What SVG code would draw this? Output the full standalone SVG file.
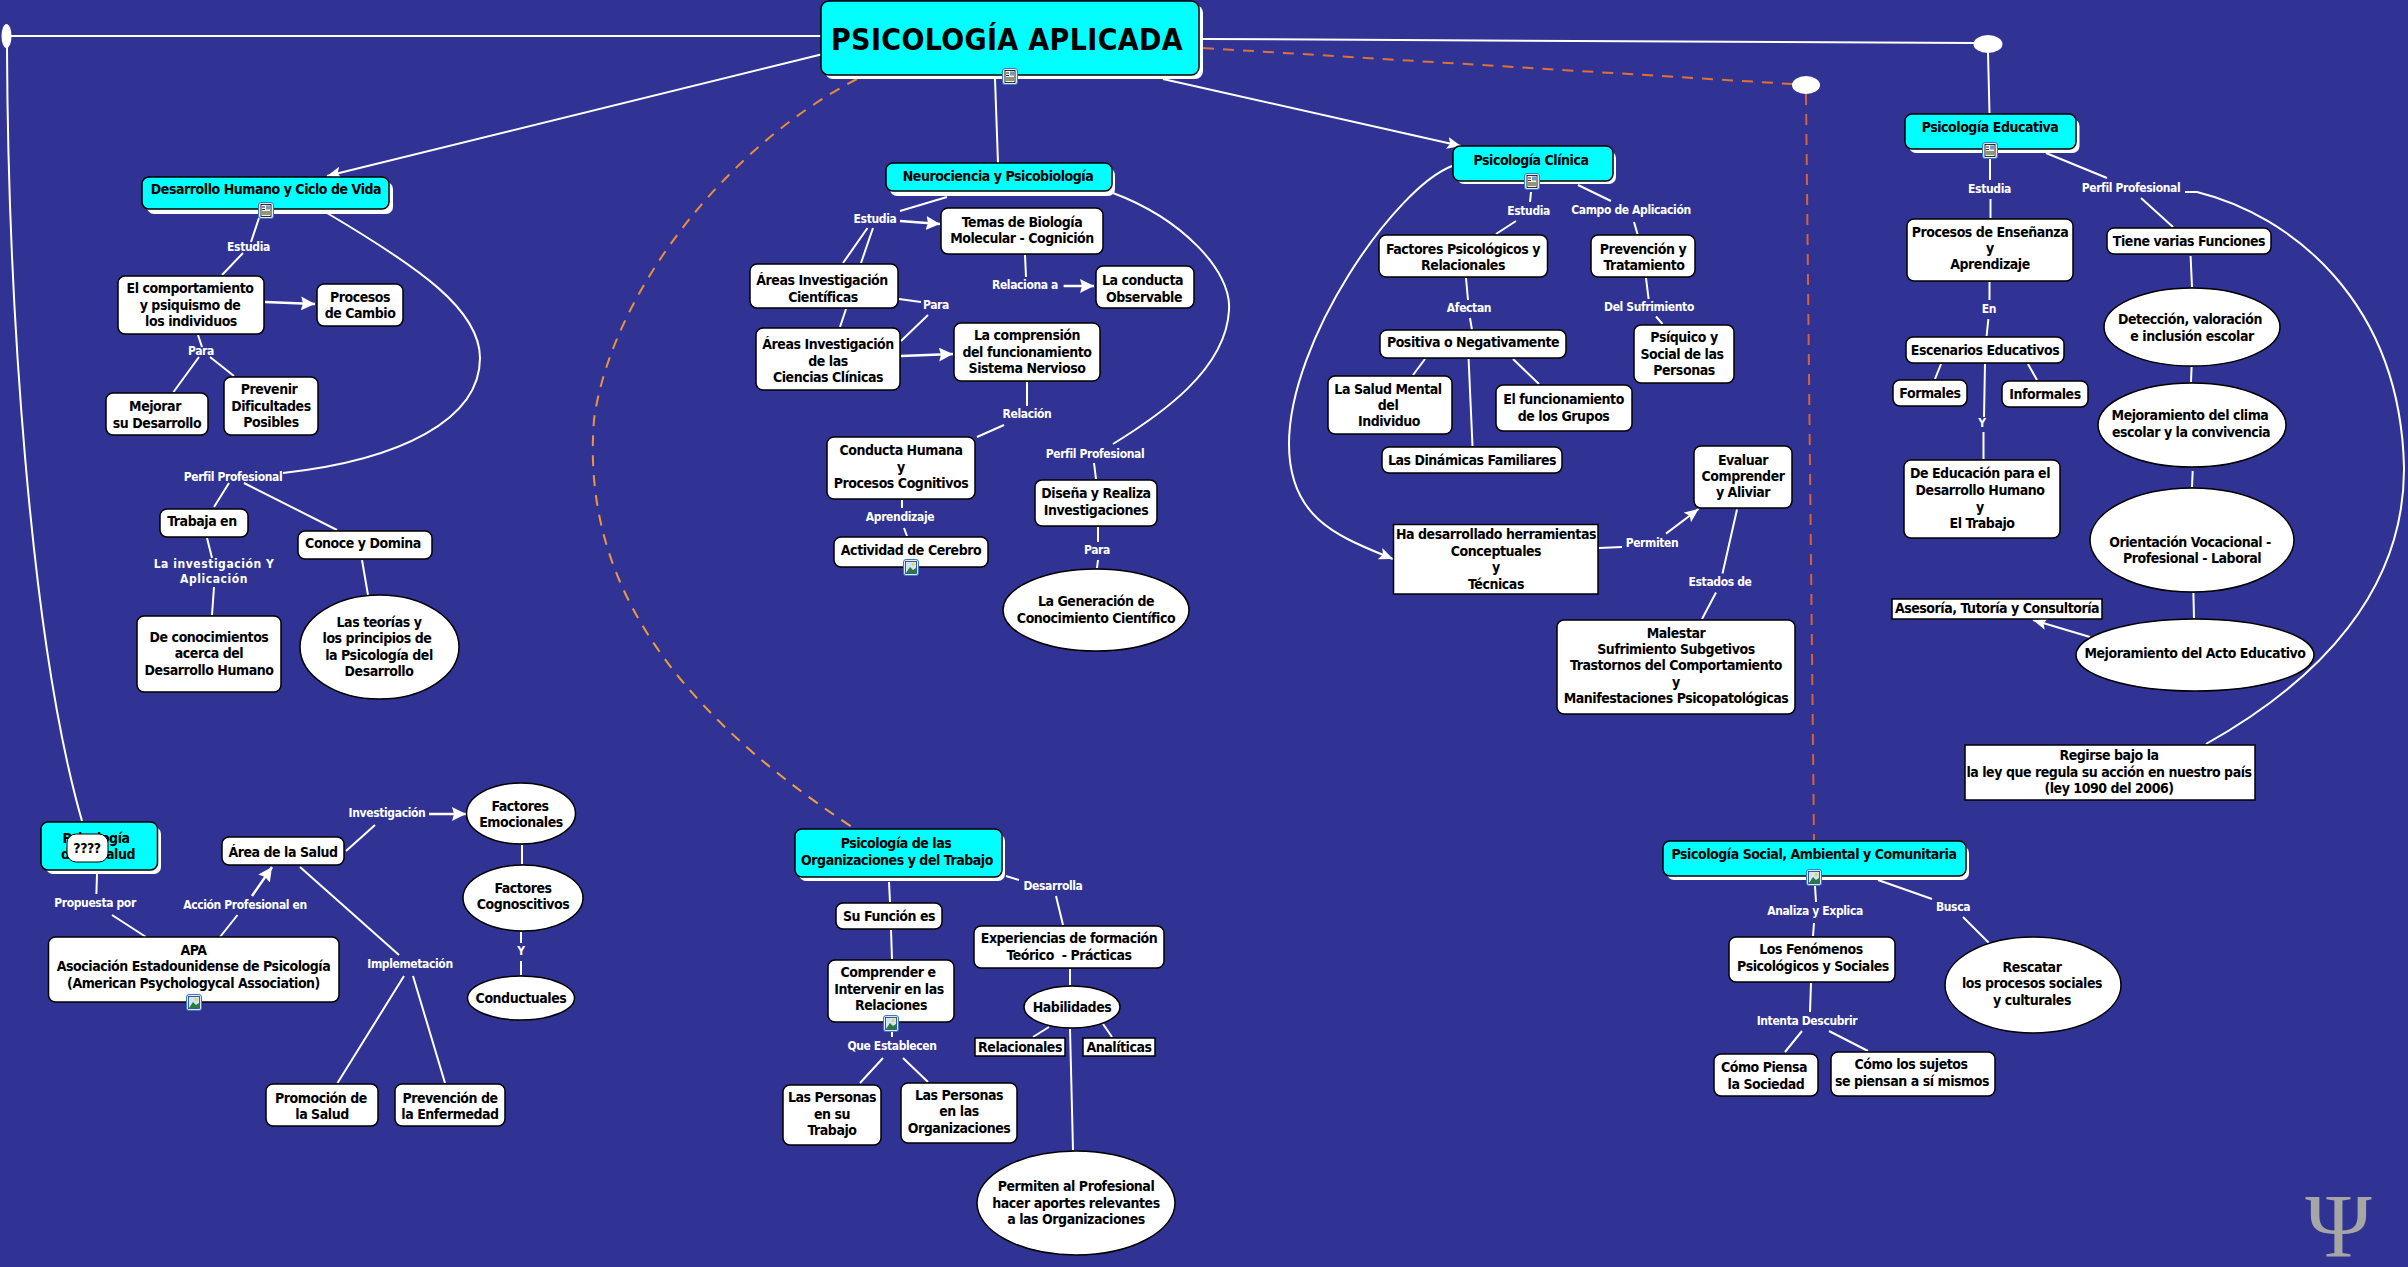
<svg xmlns="http://www.w3.org/2000/svg" xmlns:xlink="http://www.w3.org/1999/xlink" width="2408" height="1267" viewBox="0 0 2408 1267">
<style>
text{font-family:"DejaVu Sans Condensed","DejaVu Sans","Noto Sans",sans-serif;font-weight:700;text-anchor:middle}
.n{font-size:14px;fill:#000;letter-spacing:-.45px}
.e{font-size:12px;fill:#fff;letter-spacing:-.37px}
.w{letter-spacing:.55px}
.b{fill:#fff;stroke:#000;stroke-width:1.5}
.c{fill:#0ff;stroke:#000;stroke-width:1.5}
.s{fill:#fff}
.l{fill:none;stroke:#fff;stroke-width:2}
.a{fill:none;stroke:#fff;stroke-width:2.5;marker-end:url(#arr)}
.t{fill:none;stroke:#fff;stroke-width:2;marker-end:url(#arr2)}
.d{fill:none;stroke-width:2;stroke-dasharray:11 9}
.i1{fill:#f6f6d8;stroke:#000;stroke-width:.8}
</style>
<defs>
<marker id="arr" markerUnits="userSpaceOnUse" markerWidth="16" markerHeight="16" refX="14" refY="7" orient="auto"><path d="M0 0L14 7L0 14L2 7Z" fill="#fff"/></marker>
<marker id="arr2" markerUnits="userSpaceOnUse" markerWidth="16" markerHeight="16" refX="14" refY="6" orient="auto"><path d="M0 0L14 6L0 12L3 6Z" fill="#fff"/></marker>
<linearGradient id="g1" gradientUnits="userSpaceOnUse" x1="857" y1="79" x2="852" y2="827"><stop offset="0" stop-color="#E8893A"/><stop offset="1" stop-color="#F0A040"/></linearGradient>
<g id="doc"><rect x=".5" y=".5" width="15" height="16" rx="2.5" fill="#dfe9fb" stroke="#3a78d0"/><rect x="3" y="2.500" width="10" height="12" class="i1"/><path d="M4 5h3M4 7.500h3M4 10h8M4 12h8" stroke="#000" stroke-width=".8" fill="none"/><rect x="8" y="3.500" width="4" height="4" fill="#6a9ad0"/></g>
<g id="pic"><rect x=".5" y=".5" width="15" height="16" rx="2.5" fill="#dfe9fb" stroke="#3a78d0"/><rect x="2.500" y="2.500" width="11" height="12" fill="#cfe6f8" stroke="#1a3a70" stroke-width=".8"/><path d="M3 14L7 8L10 11L13 9V14Z" fill="#2a7a3a"/><circle cx="10" cy="5.500" r="1.500" fill="#f0d040"/></g>
</defs>
<rect id="background" width="2408" height="1267" fill="#303393"/>

<g id="connectors">
<path class="l" d="M11 36H821M7 47C8 300 30 640 82 821"/>
<path class="t" d="M821 54.500L327 176"/>
<path class="l" d="M995 79L998 163"/>
<path class="t" d="M1163 79L1461 146"/>
<path class="l" d="M1203 39L1974 43M1988 53L1989.500 113"/>
<path class="d" stroke="url(#g1)" d="M857 79C720 150 610 300 594 420C582 570 660 700 852 827"/>
<path class="d" stroke="#E07038" d="M1203 48L1792 84"/>
<path class="d" stroke="#D8603A" d="M1806 94L1814 840"/>

<path class="l" d="M259 218L251 242M243 253L222 275"/>
<path class="a" d="M265 302L315 304"/>
<path class="l" d="M198 335L202 347M199 357L173.500 392M210 357L234 376"/>
<path class="l" d="M327 213C420 268 480 310 480 358C480 420 400 460 283 473"/>
<path class="l" d="M229 483L214 507M244 483L337 530M207 538L212 558M214 587L212 615M362 560L368 595"/>

<path class="l" d="M947 197L900 211M867.500 228L843 263M873 228L861 263M1025 255L1026 277M899 299L921 302M928 315L901 341M846 309L840 327"/>
<path class="a" d="M900 221L940 224"/>
<path class="a" d="M1063.600 286L1094 286"/>
<path class="a" d="M901 356L953 354"/>
<path class="l" d="M1113 193C1180 218 1232 270 1229 310C1226 370 1160 415 1113 444"/>
<path class="l" d="M1027 382V406M1004 425L977 437M1094 463L1096 479M902 500V508M904 528L907 536M1098 527V542M1098 560L1097 568"/>

<path class="l" d="M889 882L890 902M891 930L892 959M892 1032V1037M883 1058L860 1083M903 1058L928 1082M1006 876L1019 880M1056 896L1063 925M1070 969V985M1049 1027L1033 1037M1103 1024L1112 1037M1070 1029L1073 1150"/>

<path class="l" d="M1531 192L1530 202M1516 221L1496 234M1578 185L1611 201M1634 222L1637.500 234M1466 278L1468 300M1470 318L1472 330M1646 278L1648.600 299M1656 316.500L1662.500 324M1425 359L1413 375M1513 359L1539 384M1468.600 359L1472.500 446M1599 548L1622 547M1737 509.500L1722.500 573.500M1716 592.500L1702 619"/>
<path class="t" d="M1666 533.600L1698.600 509"/>
<path class="t" d="M1452 166C1395 188 1289 340 1289 444C1289 520 1340 537 1393 559"/>

<path class="l" d="M1990 159V180M1990.500 199V218M2046 153L2107 178M1989.500 282V300M1988.400 319L1986.600 336M1941 364L1935 379M2028 364L2037 380M1985 364L1984 417M1983.500 432V459M2141 198L2173 227M2190.600 256L2192 287M2191.600 367L2191 382M2192.700 471L2192 487M2193.400 593L2194 618"/>
<path class="t" d="M2090 637L2033 620"/>
<path class="l" d="M2185 192L2197 192C2290 215 2400 300 2404 467C2405 590 2320 680 2206 744"/>

<path class="l" d="M1815 886L1816 902M1814 923L1813 936M1878 880L1932 899M1963 917L1989 943M1811 983L1810 1012M1802 1031L1785 1052M1829 1031L1868 1051"/>

<path class="l" d="M97 874L96.400 894M112 915L146 937M220 937L237.500 915M346 851L375 825M300 867L399 955M404 976L337.500 1083M413 976L445 1083M522 845V864M521 932V943M521 961V975"/>
<path class="a" d="M252 896L272 867"/>
<path class="a" d="M429 814H466"/>
</g>

<g id="edge-labels">
<text class="e" x="248.500" y="251">Estudia</text>
<text class="e" x="201" y="355">Para</text>
<text class="e" x="233" y="481">Perfil Profesional</text>
<text class="e w"><tspan x="214" y="568">La investigación Y</tspan><tspan x="214" y="583">Aplicación</tspan></text>
<text class="e" x="875" y="223">Estudia</text>
<text class="e" x="1025" y="289">Relaciona a</text>
<text class="e" x="936" y="309">Para</text>
<text class="e" x="1027" y="418">Relación</text>
<text class="e" x="1095" y="458">Perfil Profesional</text>
<text class="e" x="900" y="521">Aprendizaje</text>
<text class="e" x="1097" y="554">Para</text>
<text class="e" x="95" y="907">Propuesta por</text>
<text class="e" x="245" y="909">Acción Profesional en</text>
<text class="e" x="387" y="817">Investigación</text>
<text class="e" x="410" y="968">Implemetación</text>
<text class="e" x="521" y="955">Y</text>
<text class="e" x="1053" y="890">Desarrolla</text>
<text class="e" x="892" y="1050">Que Establecen</text>
<text class="e" x="1528.600" y="215">Estudia</text>
<text class="e" x="1631" y="214">Campo de Aplicación</text>
<text class="e" x="1469" y="312">Afectan</text>
<text class="e" x="1649" y="311">Del Sufrimiento</text>
<text class="e" x="1652" y="547">Permiten</text>
<text class="e" x="1720" y="586">Estados de</text>
<text class="e" x="1989.500" y="193">Estudia</text>
<text class="e" x="2131" y="192">Perfil Profesional</text>
<text class="e" x="1989" y="313">En</text>
<text class="e" x="1982" y="427">Y</text>
<text class="e" x="1815" y="915">Analiza y Explica</text>
<text class="e" x="1953" y="911">Busca</text>
<text class="e" x="1807" y="1025">Intenta Descubrir</text>
</g>

<g id="junction-left"><ellipse class="s" cx="6.500" cy="36" rx="5" ry="12"/></g>
<g id="junction-edu"><ellipse class="s" cx="1988" cy="44" rx="14.500" ry="9"/></g>
<g id="junction-social"><ellipse class="s" cx="1806" cy="85" rx="14" ry="9"/></g>

<g id="main"><rect class="s" x="825" y="5" width="378" height="74" rx="8"/><rect class="c" x="821" y="1" width="378" height="74" rx="8"/><text x="1007" y="50" style="font-size:30px;letter-spacing:.35px">PSICOLOGÍA APLICADA</text><use xlink:href="#doc" x="1002" y="68"/></g>

<g id="desarrollo"><rect class="s" x="147" y="182" width="246" height="32" rx="7"/><rect class="c" x="142" y="177" width="247" height="32" rx="7"/><text class="n" x="266" y="194">Desarrollo Humano y Ciclo de Vida</text><use xlink:href="#doc" x="258" y="202"/></g>
<g id="comportamiento"><rect class="b" x="118" y="276" width="146" height="58" rx="7"/><text class="n"><tspan x="190" y="293">El comportamiento</tspan><tspan x="190" y="310">y psiquismo de</tspan><tspan x="191" y="326">los individuos</tspan></text></g>
<g id="procesos-cambio"><rect class="b" x="317" y="284" width="86" height="42" rx="7"/><text class="n"><tspan x="360" y="302">Procesos</tspan><tspan x="360" y="318">de Cambio</tspan></text></g>
<g id="mejorar"><rect class="b" x="106" y="393" width="102" height="42" rx="7"/><text class="n"><tspan x="155" y="411">Mejorar</tspan><tspan x="157" y="428">su Desarrollo</tspan></text></g>
<g id="prevenir"><rect class="b" x="224" y="377" width="94" height="58" rx="7"/><text class="n"><tspan x="269" y="394">Prevenir</tspan><tspan x="271" y="410.500">Dificultades</tspan><tspan x="271" y="427">Posibles</tspan></text></g>
<g id="trabaja"><rect class="b" x="160" y="509" width="88" height="28" rx="7"/><text class="n" x="202" y="526">Trabaja en</text></g>
<g id="conoce"><rect class="b" x="298" y="531" width="134" height="28" rx="7"/><text class="n" x="363" y="548">Conoce y Domina</text></g>
<g id="conocimientos"><rect class="b" x="137" y="616" width="144" height="76" rx="7"/><text class="n"><tspan x="209" y="642">De conocimientos</tspan><tspan x="209" y="658">acerca del</tspan><tspan x="209" y="675">Desarrollo Humano</tspan></text></g>
<g id="teorias"><ellipse class="b" cx="379.500" cy="647" rx="79.500" ry="52"/><text class="n"><tspan x="379" y="627">Las teorías y</tspan><tspan x="377" y="643">los principios de</tspan><tspan x="379" y="660">la Psicología del</tspan><tspan x="379" y="676">Desarrollo</tspan></text></g>

<g id="neurociencia"><rect class="s" x="890" y="168" width="225" height="28" rx="7"/><rect class="c" x="886" y="163" width="226" height="28" rx="7"/><text class="n" x="998" y="181">Neurociencia y Psicobiología</text></g>
<g id="temas"><rect class="b" x="941" y="208" width="162" height="46" rx="7"/><text class="n"><tspan x="1022" y="227">Temas de Biología</tspan><tspan x="1022" y="243">Molecular - Cognición</tspan></text></g>
<g id="conducta-obs"><rect class="b" x="1096" y="266" width="98" height="42" rx="7"/><text class="n"><tspan x="1142.500" y="285">La conducta</tspan><tspan x="1144" y="301.500">Observable</tspan></text></g>
<g id="areas-cient"><rect class="b" x="750" y="264" width="148" height="44" rx="7"/><text class="n"><tspan x="822" y="285">Áreas Investigación</tspan><tspan x="823" y="302">Científicas</tspan></text></g>
<g id="areas-clin"><rect class="b" x="756" y="328" width="144" height="62" rx="7"/><text class="n"><tspan x="828" y="349">Áreas Investigación</tspan><tspan x="828" y="365.500">de las</tspan><tspan x="828" y="382">Ciencias Clínicas</tspan></text></g>
<g id="comprension"><rect class="b" x="954" y="323" width="146" height="58" rx="7"/><text class="n"><tspan x="1027" y="340">La comprensión</tspan><tspan x="1027" y="356.500">del funcionamiento</tspan><tspan x="1027" y="373">Sistema Nervioso</tspan></text></g>
<g id="conducta-humana"><rect class="b" x="827" y="437" width="148" height="62" rx="7"/><text class="n"><tspan x="901" y="455">Conducta Humana</tspan><tspan x="901" y="471.500">y</tspan><tspan x="901" y="488">Procesos Cognitivos</tspan></text></g>
<g id="actividad"><rect class="b" x="834" y="537" width="154" height="30" rx="7"/><text class="n" x="911" y="555">Actividad de Cerebro</text><use xlink:href="#pic" x="903" y="559"/></g>
<g id="disena"><rect class="b" x="1035" y="480" width="122" height="46" rx="7"/><text class="n"><tspan x="1096" y="498">Diseña y Realiza</tspan><tspan x="1096" y="515">Investigaciones</tspan></text></g>
<g id="generacion"><ellipse class="b" cx="1096" cy="610" rx="93" ry="41"/><text class="n"><tspan x="1096" y="606">La Generación de</tspan><tspan x="1096" y="622.500">Conocimiento Científico</tspan></text></g>

<g id="clinica"><rect class="s" x="1457" y="151" width="159" height="33" rx="7"/><rect class="c" x="1453" y="146" width="160" height="35" rx="7"/><text class="n" x="1531" y="165">Psicología Clínica</text><use xlink:href="#doc" x="1524" y="173"/></g>
<g id="factores-psic"><rect class="b" x="1379" y="235" width="168.500" height="42" rx="7"/><text class="n"><tspan x="1463" y="254">Factores Psicológicos y</tspan><tspan x="1463" y="270">Relacionales</tspan></text></g>
<g id="prevencion-trat"><rect class="b" x="1591" y="235" width="104" height="42" rx="7"/><text class="n"><tspan x="1643" y="254">Prevención y</tspan><tspan x="1644" y="270">Tratamiento</tspan></text></g>
<g id="positiva"><rect class="b" x="1380" y="330" width="186" height="28" rx="7"/><text class="n" x="1473" y="347">Positiva o Negativamente</text></g>
<g id="psiquico"><rect class="b" x="1634" y="325" width="100" height="58" rx="7"/><text class="n"><tspan x="1684" y="342">Psíquico y</tspan><tspan x="1682" y="359">Social de las</tspan><tspan x="1684" y="375">Personas</tspan></text></g>
<g id="salud-mental"><rect class="b" x="1328" y="376" width="124" height="58" rx="7"/><text class="n"><tspan x="1388" y="394">La Salud Mental</tspan><tspan x="1388" y="410">del</tspan><tspan x="1389" y="426">Individuo</tspan></text></g>
<g id="funcionamiento"><rect class="b" x="1496" y="385" width="136" height="46" rx="7"/><text class="n"><tspan x="1563.600" y="404">El funcionamiento</tspan><tspan x="1563.600" y="420.500">de los Grupos</tspan></text></g>
<g id="dinamicas"><rect class="b" x="1382" y="447" width="180" height="26" rx="7"/><text class="n" x="1472" y="465">Las Dinámicas Familiares</text></g>
<g id="evaluar"><rect class="b" x="1694" y="446" width="98" height="62" rx="7"/><text class="n"><tspan x="1743" y="465">Evaluar</tspan><tspan x="1743" y="481">Comprender</tspan><tspan x="1743" y="497">y Aliviar</tspan></text></g>
<g id="herramientas"><rect class="b" x="1393.500" y="524.500" width="204.500" height="69.500"/><text class="n"><tspan x="1496" y="539">Ha desarrollado herramientas</tspan><tspan x="1496" y="556">Conceptuales</tspan><tspan x="1496" y="572">y</tspan><tspan x="1496" y="588.600">Técnicas</tspan></text></g>
<g id="malestar"><rect class="b" x="1557" y="620" width="238" height="94" rx="7"/><text class="n"><tspan x="1676" y="637.600">Malestar</tspan><tspan x="1676" y="654">Sufrimiento Subgetivos</tspan><tspan x="1676" y="670">Trastornos del Comportamiento</tspan><tspan x="1676" y="687">y</tspan><tspan x="1676" y="703">Manifestaciones Psicopatológicas</tspan></text></g>

<g id="educativa"><rect class="s" x="1909" y="119" width="170.500" height="34" rx="7"/><rect class="c" x="1905" y="114" width="171" height="35" rx="7"/><text class="n" x="1990" y="132">Psicología Educativa</text><use xlink:href="#doc" x="1982" y="142"/></g>
<g id="procesos-ens"><rect class="b" x="1907" y="219" width="166" height="62" rx="7"/><text class="n"><tspan x="1990" y="237">Procesos de Enseñanza</tspan><tspan x="1990" y="253">y</tspan><tspan x="1990" y="269">Aprendizaje</tspan></text></g>
<g id="escenarios"><rect class="b" x="1906" y="337" width="158" height="26" rx="7"/><text class="n" x="1985" y="355">Escenarios Educativos</text></g>
<g id="formales"><rect class="b" x="1893" y="380" width="74" height="26" rx="7"/><text class="n" x="1930" y="398">Formales</text></g>
<g id="informales"><rect class="b" x="2002" y="381" width="86" height="26" rx="7"/><text class="n" x="2045" y="399">Informales</text></g>
<g id="educacion-des"><rect class="b" x="1904" y="460" width="156" height="78" rx="7"/><text class="n"><tspan x="1980" y="478">De Educación para el</tspan><tspan x="1980" y="495">Desarrollo Humano</tspan><tspan x="1980" y="512">y</tspan><tspan x="1982" y="528">El Trabajo</tspan></text></g>
<g id="funciones"><rect class="b" x="2107" y="228" width="164" height="26" rx="7"/><text class="n" x="2189" y="246">Tiene varias Funciones</text></g>
<g id="deteccion"><ellipse class="b" cx="2192" cy="327" rx="88" ry="39"/><text class="n"><tspan x="2190" y="324">Detección, valoración</tspan><tspan x="2192" y="341">e inclusión escolar</tspan></text></g>
<g id="clima"><ellipse class="b" cx="2192" cy="425" rx="94" ry="42"/><text class="n"><tspan x="2190" y="420">Mejoramiento del clima</tspan><tspan x="2191" y="437">escolar y la convivencia</tspan></text></g>
<g id="orientacion"><ellipse class="b" cx="2192" cy="540" rx="102" ry="52"/><text class="n"><tspan x="2190" y="547">Orientación Vocacional -</tspan><tspan x="2192" y="563">Profesional - Laboral</tspan></text></g>
<g id="asesoria"><rect class="b" x="1892" y="599" width="210" height="20"/><text class="n" x="1997" y="613">Asesoría, Tutoría y Consultoría</text></g>
<g id="acto"><ellipse class="b" cx="2195" cy="655" rx="119" ry="36"/><text class="n" x="2195" y="658">Mejoramiento del Acto Educativo</text></g>
<g id="regirse"><rect class="b" x="1965" y="745" width="290" height="55"/><text class="n"><tspan x="2109" y="760">Regirse bajo la</tspan><tspan x="2109" y="777">la ley que regula su acción en nuestro país</tspan><tspan x="2109" y="793">(ley 1090 del 2006)</tspan></text></g>

<g id="social"><rect class="s" x="1667" y="846" width="302" height="34" rx="7"/><rect class="c" x="1663" y="841" width="303" height="35" rx="7"/><text class="n" x="1814" y="859">Psicología Social, Ambiental y Comunitaria</text><use xlink:href="#pic" x="1806" y="869"/></g>
<g id="fenomenos"><rect class="b" x="1729" y="937" width="166" height="45" rx="7"/><text class="n"><tspan x="1811" y="954">Los Fenómenos</tspan><tspan x="1813" y="971">Psicológicos y Sociales</tspan></text></g>
<g id="rescatar"><ellipse class="b" cx="2033" cy="985" rx="88" ry="48"/><text class="n"><tspan x="2032" y="972">Rescatar</tspan><tspan x="2032" y="988">los procesos sociales</tspan><tspan x="2032" y="1005">y culturales</tspan></text></g>
<g id="como-piensa"><rect class="b" x="1714" y="1054" width="104" height="42" rx="7"/><text class="n"><tspan x="1764" y="1072">Cómo Piensa</tspan><tspan x="1766" y="1089">la Sociedad</tspan></text></g>
<g id="como-sujetos"><rect class="b" x="1831" y="1052" width="164" height="44" rx="7"/><text class="n"><tspan x="1911" y="1069">Cómo los sujetos</tspan><tspan x="1912" y="1086">se piensan a sí mismos</tspan></text></g>

<g id="organizaciones"><rect class="s" x="799" y="834" width="206" height="47" rx="7"/><rect class="c" x="795" y="829" width="207" height="48" rx="7"/><text class="n"><tspan x="896" y="848">Psicología de las</tspan><tspan x="897" y="865">Organizaciones y del Trabajo</tspan></text></g>
<g id="su-funcion"><rect class="b" x="836" y="903" width="106" height="26" rx="7"/><text class="n" x="889" y="921">Su Función es</text></g>
<g id="comprender"><rect class="b" x="828" y="960" width="126" height="62" rx="7"/><text class="n"><tspan x="888" y="977">Comprender e</tspan><tspan x="889" y="994">Intervenir en las</tspan><tspan x="891" y="1010">Relaciones</tspan></text><use xlink:href="#pic" x="883" y="1015"/></g>
<g id="personas-trabajo"><rect class="b" x="783" y="1085" width="98" height="60" rx="7"/><text class="n"><tspan x="832" y="1102">Las Personas</tspan><tspan x="832" y="1118.500">en su</tspan><tspan x="832" y="1135">Trabajo</tspan></text></g>
<g id="personas-org"><rect class="b" x="901" y="1083" width="116" height="60" rx="7"/><text class="n"><tspan x="959" y="1100">Las Personas</tspan><tspan x="959" y="1116">en las</tspan><tspan x="959" y="1133">Organizaciones</tspan></text></g>
<g id="experiencias"><rect class="b" x="974" y="926" width="190" height="42" rx="7"/><text class="n" xml:space="preserve"><tspan x="1069" y="943">Experiencias de formación</tspan><tspan x="1069" y="960">Teórico  - Prácticas</tspan></text></g>
<g id="habilidades"><ellipse class="b" cx="1072" cy="1007" rx="48" ry="21"/><text class="n" x="1072" y="1012">Habilidades</text></g>
<g id="relacionales"><rect class="b" x="975" y="1038" width="90" height="18"/><text class="n" x="1020" y="1052">Relacionales</text></g>
<g id="analiticas"><rect class="b" x="1083" y="1038" width="72" height="18"/><text class="n" x="1119" y="1052">Analíticas</text></g>
<g id="permiten-aportes"><ellipse class="b" cx="1076" cy="1203" rx="99" ry="52"/><text class="n"><tspan x="1076" y="1191">Permiten al Profesional</tspan><tspan x="1076" y="1207.500">hacer aportes relevantes</tspan><tspan x="1076" y="1224">a las Organizaciones</tspan></text></g>

<g id="salud"><rect class="s" x="46" y="827" width="115" height="47" rx="7"/><rect class="c" x="41" y="822" width="116.500" height="48" rx="7"/><text class="n"><tspan x="96" y="843">Psicología</tspan><tspan x="98" y="859">de la Salud</tspan></text><rect class="s" x="67" y="834" width="41" height="28" rx="9" stroke="#000" stroke-width="1"/><text class="n" x="87" y="853">????</text></g>
<g id="apa"><rect class="b" x="48.500" y="937" width="290.500" height="65" rx="7"/><text class="n"><tspan x="193.500" y="955">APA</tspan><tspan x="193.500" y="971">Asociación Estadounidense de Psicología</tspan><tspan x="193.500" y="988">(American Psychologycal Association)</tspan></text><use xlink:href="#pic" x="186" y="994"/></g>
<g id="area-salud"><rect class="b" x="222" y="837" width="122" height="28" rx="7"/><text class="n" x="283" y="857">Área de la Salud</text></g>
<g id="emocionales"><ellipse class="b" cx="521" cy="813.500" rx="54.500" ry="30.500"/><text class="n"><tspan x="520" y="811">Factores</tspan><tspan x="521" y="827">Emocionales</tspan></text></g>
<g id="cognoscitivos"><ellipse class="b" cx="523" cy="898" rx="60" ry="33"/><text class="n"><tspan x="523" y="893">Factores</tspan><tspan x="523" y="909">Cognoscitivos</tspan></text></g>
<g id="conductuales"><ellipse class="b" cx="521" cy="998" rx="53.500" ry="22"/><text class="n" x="521" y="1003">Conductuales</text></g>
<g id="promocion"><rect class="b" x="266" y="1084" width="112" height="42" rx="7"/><text class="n"><tspan x="321" y="1103">Promoción de</tspan><tspan x="322" y="1119">la Salud</tspan></text></g>
<g id="prevencion-enf"><rect class="b" x="395" y="1084" width="110" height="42" rx="7"/><text class="n"><tspan x="450" y="1103">Prevención de</tspan><tspan x="450" y="1119">la Enfermedad</tspan></text></g>

<text id="psi" x="2338.500" y="1257" style="font-family:'Liberation Serif',serif;font-size:90px;font-weight:400;fill:#A6A6A6">Ψ</text>
</svg>
